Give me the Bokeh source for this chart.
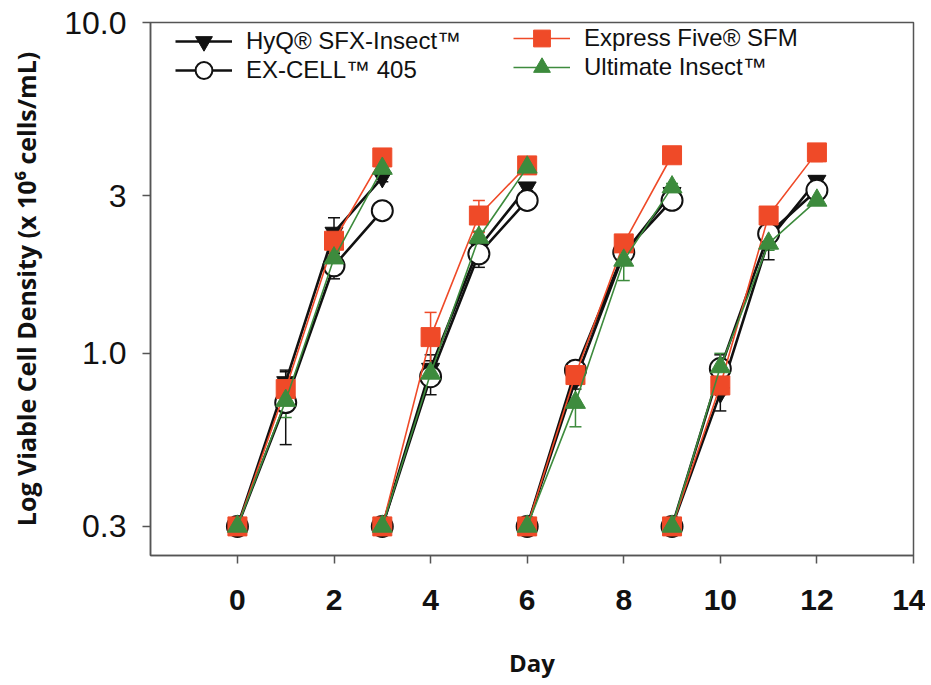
import math
from bokeh.plotting import figure
from bokeh.models import (ColumnDataSource, Whisker, TeeHead, Legend, LegendItem,
                          FixedTicker, Range1d)
from bokeh.embed import file_html
from bokeh.resources import INLINE

# ---- data ----
days = [0, 1, 2, 3, 3, 4, 5, 6, 6, 7, 8, 9, 9, 10, 11, 12]

hyq      = [0.30, 0.82, 2.32, 3.40, 0.30, 0.90, 2.09, 3.18, 0.30, 0.83, 2.00, 3.06, 0.30, 0.76, 2.20, 3.33]
excell   = [0.30, 0.71, 1.84, 2.70, 0.30, 0.85, 2.00, 2.90, 0.30, 0.89, 2.02, 2.90, 0.30, 0.90, 2.30, 3.11]
express  = [0.30, 0.78, 2.19, 3.91, 0.30, 1.12, 2.61, 3.70, 0.30, 0.86, 2.15, 3.97, 0.30, 0.80, 2.61, 4.05]
ultimate = [0.30, 0.72, 1.94, 3.62, 0.30, 0.87, 2.24, 3.65, 0.30, 0.71, 1.91, 3.18, 0.30, 0.91, 2.15, 2.90]

hyq_err      = [0, 0.06, 0.25, 0.10, 0, 0.09, 0.10, 0.08, 0, 0.05, 0.08, 0.08, 0, 0.09, 0.28, 0.10]
excell_err   = [0, 0.18, 0.16, 0.06, 0, 0.10, 0.18, 0.08, 0, 0.06, 0.08, 0.06, 0, 0.09, 0.08, 0.08]
express_err  = [0, 0.05, 0.15, 0.10, 0, 0.21, 0.29, 0.08, 0, 0.06, 0.10, 0.08, 0, 0.05, 0.08, 0.25]
ultimate_err = [0, 0.08, 0.08, 0.08, 0, 0.05, 0.10, 0.08, 0, 0.11, 0.25, 0.08, 0, 0.09, 0.10, 0.08]

series_names = ["HyQ® SFX-Insect™", "EX-CELL™ 405", "Express Five® SFM", "Ultimate Insect™"]

y_ticks = [0.3, 1, 3, 10]
y_tick_labels = {0.3: "0.3", 1: "1.0", 3: "3", 10: "10.0"}
x_ticks = [0, 2, 4, 6, 8, 10, 12, 14]

SEG = 4  # points per culture passage

def broken(xs, ys):
    bx, by = [], []
    for i, (a, b) in enumerate(zip(xs, ys)):
        if i > 0 and i % SEG == 0:
            bx.append(float("nan"))
            by.append(float("nan"))
        bx.append(a)
        by.append(b)
    return bx, by

W, H = 925, 684
BL, BT, BR, BB = 150, 22, 12, 129
p = figure(width=W, height=H, y_axis_type="log",
           x_range=Range1d(-1.8, 14), y_range=Range1d(0.245, 10),
           output_backend="svg", toolbar_location=None,
           min_border_left=BL, min_border_right=BR,
           min_border_top=BT, min_border_bottom=BB)
p.xgrid.visible = False
p.ygrid.visible = False
p.outline_line_color = "#555555"
p.outline_line_width = 1.5
p.background_fill_color = "white"
p.border_fill_color = "white"

BLACK = "#111111"
RED = "#ef4a28"
GREEN = "#3d8b3d"

styles = [
    dict(vals=hyq, err=hyq_err, color=BLACK, lw=2.6, marker="inverted_triangle",
         size=18, fill=BLACK),
    dict(vals=excell, err=excell_err, color=BLACK, lw=2.6, marker="circle",
         size=21, fill="white"),
    dict(vals=express, err=express_err, color=RED, lw=1.6, marker="square",
         size=19, fill=RED),
    dict(vals=ultimate, err=ultimate_err, color=GREEN, lw=1.6, marker="triangle",
         size=20, fill=GREEN),
]

items = []
for name, st in zip(series_names, styles):
    src = ColumnDataSource(dict(
        x=days, y=st["vals"],
        lo=[v - e for v, e in zip(st["vals"], st["err"])],
        hi=[v + e for v, e in zip(st["vals"], st["err"])],
    ))
    w = Whisker(source=src, base="x", upper="hi", lower="lo", dimension="height",
                line_color=st["color"], line_width=1.5, level="underlay",
                upper_head=TeeHead(size=12, line_color=st["color"], line_width=1.5),
                lower_head=TeeHead(size=12, line_color=st["color"], line_width=1.5))
    p.add_layout(w)
    bx, by = broken(days, st["vals"])
    lr = p.line(bx, by, line_color=st["color"], line_width=st["lw"])
    sr = p.scatter("x", "y", source=src, marker=st["marker"], size=st["size"],
                   fill_color=st["fill"], line_color=st["color"],
                   line_width=2 if st["marker"] == "circle" else 1)
    items.append(LegendItem(label=name, renderers=[lr, sr]))

frame_h = H - BT - BB
GH = 42
# (left offset in frame, row centre below frame top)
legend_pos = [(25, 19), (25, 48), (363, 16), (363, 45)]
for it, (lx, cy) in zip(items, legend_pos):
    lg = Legend(items=[it], location=(lx, frame_h - cy - GH // 2),
                orientation="vertical",
                background_fill_alpha=0, border_line_alpha=0,
                label_text_font="Liberation Sans", label_text_font_size="24px",
                label_text_color="#111111",
                glyph_width=57, glyph_height=GH, label_height=GH,
                spacing=0, padding=0, margin=0, label_standoff=14)
    p.add_layout(lg, "center")

# axes
p.xaxis.ticker = FixedTicker(ticks=x_ticks)
p.yaxis.ticker = FixedTicker(ticks=y_ticks)
p.yaxis.major_label_overrides = y_tick_labels
for ax in (p.xaxis[0], p.yaxis[0]):
    ax.axis_line_color = "#555555"
    ax.axis_line_width = 1.5
    ax.major_tick_line_color = "#555555"
    ax.major_tick_line_width = 1.5
    ax.major_tick_in = 0
    ax.major_tick_out = 8
    ax.minor_tick_line_color = None
    ax.major_label_text_font = "Liberation Sans"
    ax.major_label_text_color = "#111111"
    ax.axis_label_text_font = "Open Sans"
    ax.axis_label_text_font_style = "bold"
    ax.axis_label_text_color = "#111111"

p.xaxis.major_label_text_font_style = "bold"
p.xaxis.major_label_text_font_size = "30px"
p.xaxis.major_label_standoff = 26
p.xaxis.axis_label = "Day"
p.xaxis.axis_label_text_font_size = "24px"
p.xaxis.axis_label_standoff = 33

p.yaxis.major_label_text_font_size = "32px"
p.yaxis.major_label_standoff = 16
p.yaxis.axis_label = "Log Viable Cell Density (x 10⁶ cells/mL)"
p.yaxis.axis_label_text_font_size = "25px"
p.yaxis.axis_label_standoff = 18

open("out.html", "w").write(file_html(p, INLINE))
